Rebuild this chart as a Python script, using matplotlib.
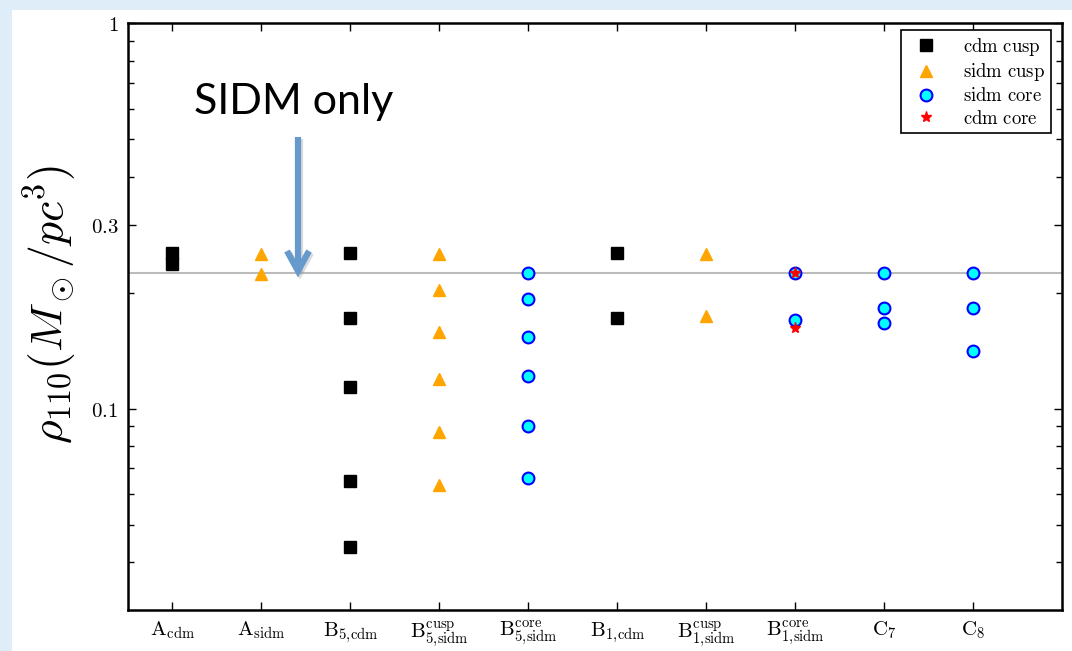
import matplotlib

matplotlib.use("Agg")
import matplotlib.pyplot as plt
from matplotlib.patches import Rectangle
from matplotlib.lines import Line2D
from matplotlib.ticker import FixedLocator, LogLocator, NullFormatter

plt.rcParams["mathtext.fontset"] = "cm"

# tick labels along x
categories = [
    r"$\mathrm{A}_{\mathrm{cdm}}$",
    r"$\mathrm{A}_{\mathrm{sidm}}$",
    r"$\mathrm{B}_{5{,}\mathrm{cdm}}$",
    r"$\mathrm{B}^{\mathrm{cusp}}_{5{,}\mathrm{sidm}}$",
    r"$\mathrm{B}^{\mathrm{core}}_{5{,}\mathrm{sidm}}$",
    r"$\mathrm{B}_{1{,}\mathrm{cdm}}$",
    r"$\mathrm{B}^{\mathrm{cusp}}_{1{,}\mathrm{sidm}}$",
    r"$\mathrm{B}^{\mathrm{core}}_{1{,}\mathrm{sidm}}$",
    r"$\mathrm{C}_7$",
    r"$\mathrm{C}_8$",
]

# series: category index + density value
cdm_cusp_x = [0, 0, 2, 2, 2, 2, 2, 5, 5]
cdm_cusp_y = [0.254, 0.2375, 0.254, 0.1714, 0.1135, 0.0648, 0.0437, 0.254, 0.1722]

sidm_cusp_x = [1, 1, 3, 3, 3, 3, 3, 3, 6, 6]
sidm_cusp_y = [0.252, 0.224, 0.252, 0.2026, 0.1576, 0.119, 0.0868, 0.0633, 0.252, 0.1734]

sidm_core_x = [4, 4, 4, 4, 4, 4, 7, 7, 8, 8, 8, 9, 9, 9]
sidm_core_y = [0.225, 0.193, 0.153, 0.1213, 0.090, 0.066,
               0.225, 0.1694, 0.225, 0.1823, 0.1663, 0.225, 0.1823, 0.1408]

cdm_core_x = [7, 7]
cdm_core_y = [0.225, 0.1614]

ref_level = 0.225

W, H = 1072, 651
fig = plt.figure(figsize=(W / 100, H / 100), dpi=100, facecolor="#deedf7")
# white slide area
fig.patches.append(Rectangle((12 / W, 0), 1, 1 - 10 / H, transform=fig.transFigure,
                             facecolor="white", edgecolor="none", zorder=-10))

ax = fig.add_axes([128 / W, 41 / H, (1062 - 128) / W, (610 - 23.3) / H])

ax.axhline(ref_level, color="#bbbbbb", lw=1.5, zorder=1)

ax.plot(cdm_cusp_x, cdm_cusp_y, "s", color="black", ms=8, mec="black",
        ls="none", label=r"$\mathrm{cdm\ cusp}$", zorder=3)
ax.plot(sidm_cusp_x, sidm_cusp_y, "^", color="orange", ms=8.5, mec="orange",
        ls="none", label=r"$\mathrm{sidm\ cusp}$", zorder=3)
ax.plot(sidm_core_x, sidm_core_y, "o", mfc="cyan", mec="blue", mew=1.5, ms=8.5,
        ls="none", label=r"$\mathrm{sidm\ core}$", zorder=3)
ax.plot(cdm_core_x, cdm_core_y, "*", color="red", ms=8, mec="red",
        ls="none", label=r"$\mathrm{cdm\ core}$", zorder=4)

ax.set_yscale("log")
ax.set_ylim(0.03, 1)
ax.set_xlim(-0.5, 10)

ax.yaxis.set_major_locator(FixedLocator([0.1, 0.3, 1]))
ax.set_yticklabels([r"$0.1$", r"$0.3$", r"$1$"], fontsize=15)
ax.yaxis.set_minor_locator(LogLocator(base=10, subs=[2, 4, 5, 6, 7, 8, 9]))
ax.yaxis.set_minor_formatter(NullFormatter())

ax.set_xticks(range(len(categories)))
ax.set_xticklabels(categories, fontsize=15)

ax.tick_params(which="both", direction="in", top=True, right=True)
ax.tick_params(which="major", length=6, width=1)
ax.tick_params(which="minor", length=4, width=1)
ax.tick_params(axis="x", pad=7)
ax.tick_params(axis="y", pad=7)
for s in ax.spines.values():
    s.set_linewidth(1.8)

ax.set_ylabel(r"$\rho_{110}(M_\odot/pc^3)$", fontsize=33)
ax.yaxis.set_label_coords(-0.052, 0.52)

leg = ax.legend(loc="upper right", numpoints=1, fontsize=13.5, fancybox=False,
                edgecolor="black", framealpha=1, borderpad=0.3, labelspacing=0.17,
                handletextpad=1.0, borderaxespad=0, bbox_to_anchor=(0.988, 0.988))
leg.get_frame().set_linewidth(1.2)

# annotation on the slide
fig.text(294 / W, 1 - 114 / H, "SIDM only", fontsize=31, family="Lato",
         ha="center", va="baseline")


def px(x, y):
    return x / W, 1 - y / H


arrow_color = "#6699cc"
shaft = [(298, 137), (298, 270)]
head = [(287, 251), (298, 271), (309, 251)]
for dx, dy, col, a in [(2, 2, "#888888", 0.3), (0, 0, arrow_color, 1)]:
    for seg in (shaft, head):
        xs, ys = zip(*[px(x + dx, y + dy) for x, y in seg])
        fig.add_artist(Line2D(xs, ys, transform=fig.transFigure, color=col, alpha=a,
                              lw=4.5, solid_capstyle="butt", solid_joinstyle="miter"))

fig.savefig("out.png", dpi=100, facecolor=fig.get_facecolor())
